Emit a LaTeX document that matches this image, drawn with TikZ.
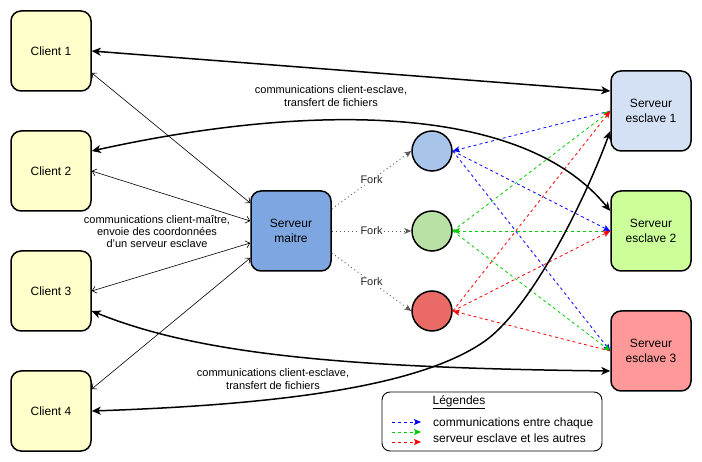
\documentclass[tikz,border=0pt]{standalone}
\usepackage{fontspec}
\setmainfont{Liberation Sans}
\usetikzlibrary{arrows.meta,calc}
\definecolor{clientfill}{HTML}{FFFFCC}
\definecolor{masterfill}{HTML}{7EA6E0}
\definecolor{s1fill}{HTML}{D4E1F5}
\definecolor{s2fill}{HTML}{CCFF99}
\definecolor{s3fill}{HTML}{FF9999}
\definecolor{bproc}{HTML}{A9C4EB}
\definecolor{gproc}{HTML}{B9E0A5}
\definecolor{rproc}{HTML}{EA6B66}
\definecolor{lblue}{HTML}{0000FF}
\definecolor{lgreen}{HTML}{00CC00}
\definecolor{lred}{HTML}{FF0000}
\begin{document}
\begin{tikzpicture}[x=1pt,y=-1pt,
  box/.style={draw=black,line width=1.5pt,rounded corners=10pt,minimum width=80pt,minimum height=80pt,inner sep=0pt,align=center,font=\fontsize{12}{14.5}\selectfont},
  proc/.style={circle,draw=black,line width=1.5pt,minimum size=40pt,inner sep=0pt},
  thickarrow/.style={line width=1.5pt,{Stealth[length=9pt,width=8pt,inset=2.5pt]}-{Stealth[length=9pt,width=8pt,inset=2.5pt]}},
  thinarrow/.style={line width=0.6pt,{Straight Barb[length=4pt,width=7pt]}-{Straight Barb[length=4pt,width=7pt]}},
  forkarrow/.style={draw=black!65,line width=0.9pt,dash pattern=on 1pt off 3pt,-{Stealth[length=7pt,width=6pt,inset=2pt]}},
  slavearrow/.style={line width=0.8pt,dash pattern=on 3pt off 3pt,-{Stealth[length=7pt,width=6pt,inset=1.5pt]}},
  lbl/.style={font=\fontsize{11}{13}\selectfont,align=center,inner sep=1pt},
  forklbl/.style={font=\fontsize{11}{13}\selectfont,fill=white,inner sep=1pt,text=black!85}
]
\useasboundingbox (0,0) rectangle (702,462);

% clients
\node[box,fill=clientfill] (c1) at (51,51) {Client 1};
\node[box,fill=clientfill] (c2) at (51,171) {Client 2};
\node[box,fill=clientfill] (c3) at (51,291) {Client 3};
\node[box,fill=clientfill] (c4) at (51,411) {Client 4};

% master
\node[box,fill=masterfill] (m) at (291,231) {Serveur\\maitre};

% processes
\node[proc,fill=bproc] (b) at (432,151) {};
\node[proc,fill=gproc] (g) at (432,231) {};
\node[proc,fill=rproc] (r) at (432,311) {};

% slaves
\node[box,fill=s1fill] (s1) at (651,111) {Serveur\\esclave 1};
\node[box,fill=s2fill] (s2) at (651,231) {Serveur\\esclave 2};
\node[box,fill=s3fill] (s3) at (651,351) {Serveur\\esclave 3};

% fork arrows
\draw[forkarrow] ([yshift=22pt]m.east) -- node[forklbl]{Fork} (b.west);
\draw[forkarrow] (m.east) -- node[forklbl]{Fork} (g.west);
\draw[forkarrow] ([yshift=-22pt]m.east) -- node[forklbl]{Fork} (r.west);

% slave communications
\draw[slavearrow,lblue] (s1.west) -- (b.east);
\draw[slavearrow,lblue] (b.east) -- (s2.west);
\draw[slavearrow,lblue] (b.east) -- (s3.west);
\draw[slavearrow,lgreen] (s2.west) -- (g.east);
\draw[slavearrow,lgreen] (g.east) -- (s1.west);
\draw[slavearrow,lgreen] (g.east) -- (s3.west);
\draw[slavearrow,lred] (s3.west) -- (r.east);
\draw[slavearrow,lred] (r.east) -- (s1.west);
\draw[slavearrow,lred] (r.east) -- (s2.west);

% thin client-master
\draw[thinarrow] ([yshift=-22pt]c1.east) -- ([yshift=28pt]m.west);
\draw[thinarrow] (c2.east) -- ([yshift=10pt]m.west);
\draw[thinarrow] (c3.east) -- ([yshift=-12pt]m.west);
\draw[thinarrow] ([yshift=22pt]c4.east) -- ([yshift=-27pt]m.west);

% thick client-slave
\draw[thickarrow] (c1.east) -- ([yshift=20pt]s1.west);
\draw[thickarrow] ([yshift=20pt]c2.east) .. controls (300,105) and (520,100) .. ([yshift=20pt]s2.west);
\draw[thickarrow] ([yshift=-20pt]c3.east) .. controls (200,355) and (350,368) .. ([yshift=-20pt]s3.west);
\draw[thickarrow] (c4.east) .. controls (300,404) and (425,383) .. (485,341) .. controls (532,307) and (585,200) .. ([yshift=-20pt]s1.west);

% labels
\node[lbl] (l1) at (331,96.5) {communications client-esclave,\\transfert de fichiers};
\node[lbl,font=\fontsize{11}{12}\selectfont] (l2) at (157,232) {communications client-maître,\\envoie des coordonnées\\d'un serveur esclave};
\node[lbl] (l3) at (273,379) {communications client-esclave,\\transfert de fichiers};

% legend
\node[draw=black,line width=0.9pt,rounded corners=8pt,minimum width=220pt,minimum height=59pt,inner sep=0pt] (leg) at (492,421.5) {};
\node[font=\fontsize{12}{14}\selectfont] (legt) at (459,402) {\underline{Légendes}};
\coordinate (lb1) at (392,422); \coordinate (le1) at (421,422);
\coordinate (lb2) at (392,432); \coordinate (le2) at (421,432);
\coordinate (lb3) at (392,442); \coordinate (le3) at (421,442);
\draw[slavearrow,lblue] (lb1) -- (le1);
\draw[slavearrow,lgreen] (lb2) -- (le2);
\draw[slavearrow,lred] (lb3) -- (le3);
\node[anchor=west,font=\fontsize{12}{14}\selectfont,inner sep=0pt] (lt1) at (433,423) {communications entre chaque};
\node[anchor=west,font=\fontsize{12}{14}\selectfont,inner sep=0pt] (lt2) at (433,438) {serveur esclave et les autres};
\end{tikzpicture}
\end{document}
